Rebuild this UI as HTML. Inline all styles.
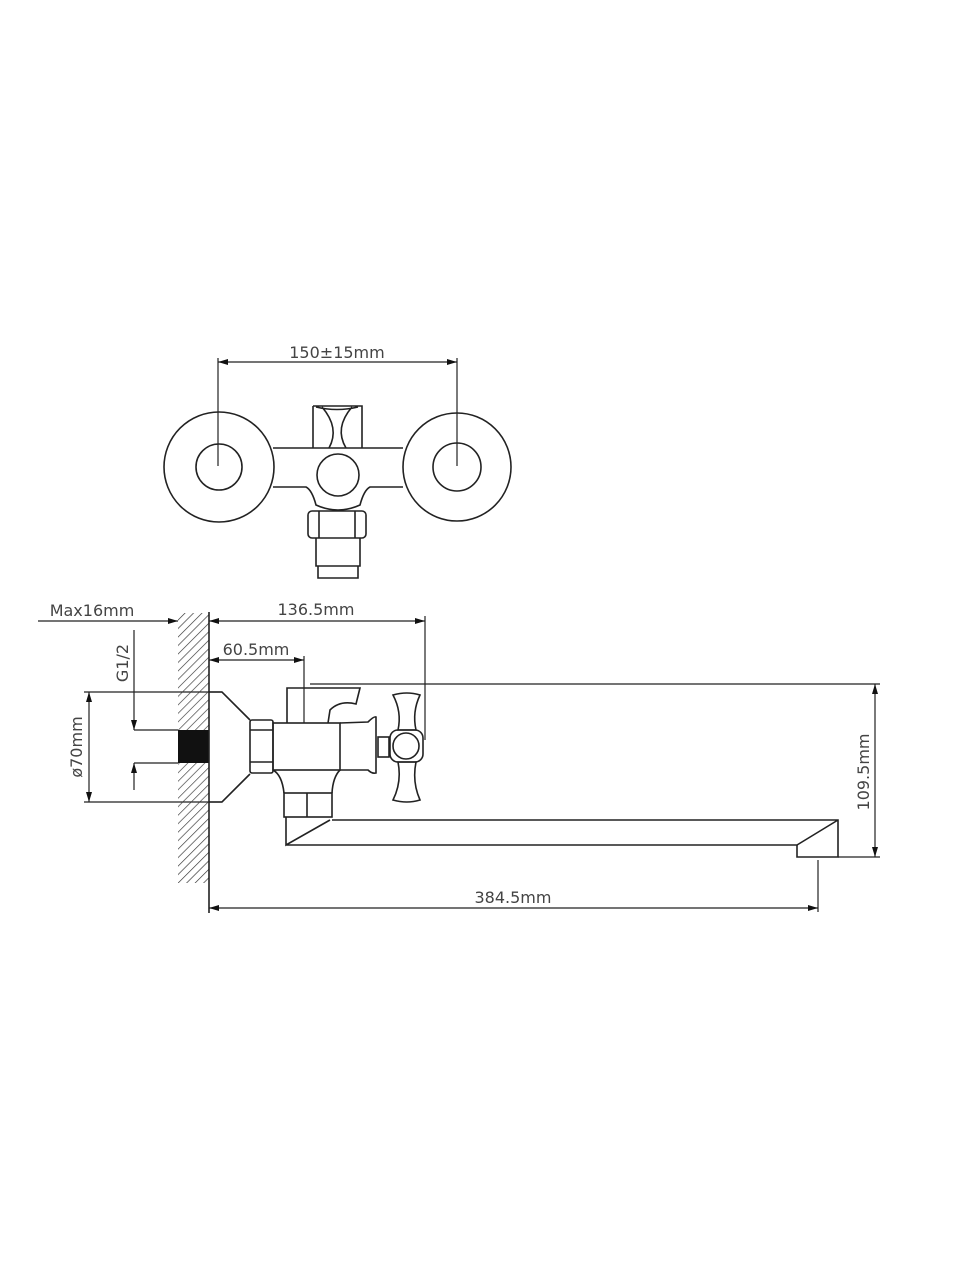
<!DOCTYPE html>
<html><head><meta charset="utf-8"><style>
html,body{margin:0;padding:0;background:#fff}
svg{display:block}
text{font-family:"DejaVu Sans","Liberation Sans",sans-serif;font-size:16px;fill:#444}
</style></head><body>
<svg width="960" height="1280" viewBox="0 0 960 1280" xmlns="http://www.w3.org/2000/svg">
<defs>
<pattern id="h" patternUnits="userSpaceOnUse" width="6" height="6" patternTransform="rotate(45)">
<line x1="0" y1="0" x2="0" y2="6" stroke="#333" stroke-width="1.3"/>
</pattern>
<marker id="a" viewBox="0 0 10 6" refX="10" refY="3" markerWidth="10" markerHeight="6" orient="auto-start-reverse" markerUnits="userSpaceOnUse">
<path d="M0,0 L10,3 L0,6 z" fill="#111"/>
</marker>
</defs>
<g fill="none" stroke="#222" stroke-width="1.6">
<!-- TOP VIEW -->
<path d="M313,406 L362,406 L362,448 M313,406 L313,448 M316,407 Q337,412 358,407 M322,407 Q340,428 329,448 M352,407 Q334,428 346,448"/>
<path d="M273,448 L403,448 M273,487 L306,487 Q312,490 316,505 Q338,515 360,505 Q364,490 370,487 L403,487"/>
<circle cx="219" cy="467" r="55" fill="#fff"/>
<circle cx="219" cy="467" r="23"/>
<circle cx="457" cy="467" r="54" fill="#fff"/>
<circle cx="457" cy="467" r="24"/>
<circle cx="338" cy="475" r="21"/>
<line x1="218" y1="362" x2="457" y2="362" stroke-width="1.2" marker-start="url(#a)" marker-end="url(#a)"/>
<line x1="218" y1="358" x2="218" y2="466" stroke-width="1.2"/>
<line x1="457" y1="358" x2="457" y2="466" stroke-width="1.2"/>
<rect x="308" y="511" width="58" height="27" rx="4"/>
<path d="M319,511 L319,538 M355,511 L355,538"/>
<path d="M316,538 L316,566 L360,566 L360,538 M318,566 L318,578 L358,578 L358,566"/>
<!-- SIDE VIEW: dims -->
<line x1="38" y1="621" x2="178" y2="621" stroke-width="1.2" marker-end="url(#a)"/>
<line x1="209" y1="621" x2="425" y2="621" stroke-width="1.2" marker-start="url(#a)" marker-end="url(#a)"/>
<line x1="425" y1="616" x2="425" y2="740" stroke-width="1.2"/>
<line x1="209" y1="660" x2="304" y2="660" stroke-width="1.2" marker-start="url(#a)" marker-end="url(#a)"/>
<line x1="304" y1="656" x2="304" y2="723" stroke-width="1.2"/>
<line x1="89" y1="692" x2="89" y2="802" stroke-width="1.2" marker-start="url(#a)" marker-end="url(#a)"/>
<line x1="84" y1="692" x2="222" y2="692" stroke-width="1.2"/>
<line x1="84" y1="802" x2="222" y2="802" stroke-width="1.2"/>
<line x1="134" y1="630" x2="134" y2="730" stroke-width="1.2" marker-end="url(#a)"/>
<line x1="134" y1="790" x2="134" y2="763" stroke-width="1.2" marker-end="url(#a)"/>
<line x1="134" y1="730" x2="178" y2="730" stroke-width="1.2"/>
<line x1="134" y1="763" x2="178" y2="763" stroke-width="1.2"/>
<!-- wall -->
<rect x="178" y="613" width="31" height="270" fill="url(#h)" stroke="none"/>
<rect x="178" y="730" width="31" height="33" fill="#111" stroke="none"/>
<line x1="209" y1="612" x2="209" y2="913"/>
<!-- flange -->
<path d="M209,692 L222,692 L250,720 M209,802 L222,802 L250,774"/>
<!-- nut -->
<rect x="250" y="720" width="23" height="53" rx="2"/>
<path d="M250,730 L273,730 M250,762 L273,762"/>
<!-- body -->
<rect x="273" y="723" width="67" height="47"/>
<path d="M340,723 L368,722 Q374,716 376,717 L376,773 Q372,774 368,770 L340,770"/>
<rect x="378" y="737" width="11" height="20"/>
<!-- cross handle -->
<path d="M393,695 Q407,691 420,695 Q412,712 416,730 L398,730 Q402,712 393,695 Z"/>
<path d="M398,762 L416,762 Q412,782 420,800 Q407,804 393,800 Q402,782 398,762 Z"/>
<rect x="390" y="730" width="33" height="32" rx="8"/>
<circle cx="406" cy="746" r="13"/>
<!-- lever -->
<path d="M287,723 L287,688 L360,688 L356,704 Q340,700 330,710 L328,723"/>
<!-- bottom nut -->
<path d="M273,770 Q282,775 284,793 M340,770 Q333,777 332,793"/>
<rect x="284" y="793" width="48" height="24"/>
<line x1="307" y1="793" x2="307" y2="817"/>
<!-- spout -->
<path d="M286,817 L286,845 L330,820 M332,820 L838,820 L838,847 M286,845 L797,845 L838,820"/>
<path d="M797,845 L797,857 L838,857 L838,847"/>
<!-- 109.5 -->
<line x1="310" y1="684" x2="880" y2="684" stroke-width="1.2"/>
<line x1="838" y1="857" x2="880" y2="857" stroke-width="1.2"/>
<line x1="875" y1="684" x2="875" y2="857" stroke-width="1.2" marker-start="url(#a)" marker-end="url(#a)"/>
<!-- 384.5 -->
<line x1="818" y1="860" x2="818" y2="912" stroke-width="1.2"/>
<line x1="209" y1="908" x2="818" y2="908" stroke-width="1.2" marker-start="url(#a)" marker-end="url(#a)"/>
</g>
<text x="337" y="358" text-anchor="middle">150±15mm</text>
<text x="92" y="616" text-anchor="middle">Max16mm</text>
<text x="316" y="615" text-anchor="middle">136.5mm</text>
<text x="256" y="655" text-anchor="middle">60.5mm</text>
<text x="513" y="903" text-anchor="middle">384.5mm</text>
<text transform="translate(82,747) rotate(-90)" text-anchor="middle">ø70mm</text>
<text transform="translate(128,663) rotate(-90)" text-anchor="middle">G1/2</text>
<text transform="translate(869,772) rotate(-90)" text-anchor="middle">109.5mm</text>
</svg>
</body></html>
